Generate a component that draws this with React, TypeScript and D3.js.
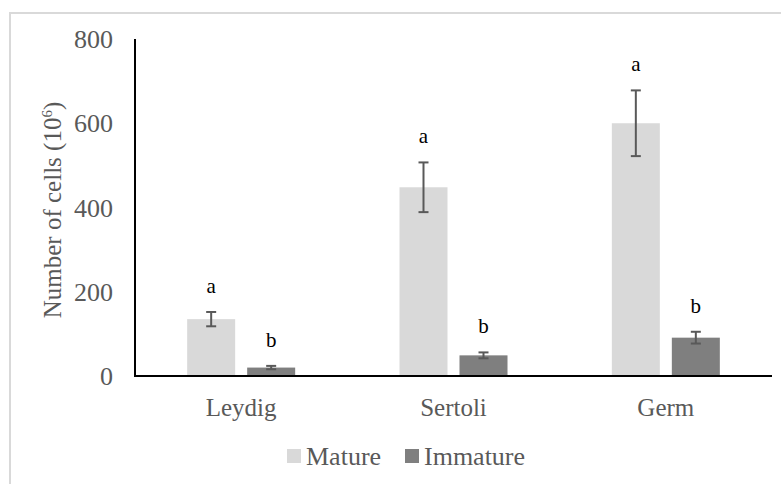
import React, { useEffect, useRef } from 'react';
import * as d3 from 'd3';

// chart data
const categories = ['Leydig', 'Sertoli', 'Germ'];
const seriesNames = ['Mature', 'Immature'];
const matureValues = [135, 448, 600];
const immatureValues = [20, 49, 91];
const matureErrors = [17, 59, 78];
const immatureErrors = [4, 7, 14];
const matureLetters = ['a', 'a', 'a'];
const immatureLetters = ['b', 'b', 'b'];
const yTicks = [0, 200, 400, 600, 800];

const colors = ['#d9d9d9', '#7f7f7f'];
const textGray = '#595959';
const font = '"Liberation Serif", "Times New Roman", serif';

const App = () => {
  const chartRef = useRef<SVGSVGElement>(null);

  useEffect(() => {
    const svg = d3.select(chartRef.current);
    svg.selectAll('*').remove();

    // light frame around the chart area
    svg.append('rect')
      .attr('x', 10)
      .attr('y', 13)
      .attr('width', 800)
      .attr('height', 500)
      .style('fill', 'none')
      .style('stroke', '#d9d9d9')
      .style('stroke-width', 2);

    const left = 135;
    const right = 772;
    const top = 39;
    const bottom = 376;

    const x0 = d3.scaleBand().domain(categories).range([left, right]).padding(0);
    const groupWidth = 108;
    const x1 = d3.scaleBand().domain(seriesNames).range([0, groupWidth]).paddingInner(0.2).paddingOuter(0);
    const y = d3.scaleLinear().domain([0, 800]).range([bottom, top]);

    const rows = categories.flatMap((c, i) => [
      { cat: c, series: 'Mature', value: matureValues[i], err: matureErrors[i], letter: matureLetters[i], color: colors[0] },
      { cat: c, series: 'Immature', value: immatureValues[i], err: immatureErrors[i], letter: immatureLetters[i], color: colors[1] },
    ]);

    const barX = (d) => x0(d.cat) + x0.bandwidth() / 2 - groupWidth / 2 + x1(d.series);

    // bars
    svg.selectAll('.bar')
      .data(rows)
      .enter()
      .append('rect')
      .attr('class', 'bar')
      .attr('x', barX)
      .attr('y', d => y(d.value))
      .attr('width', x1.bandwidth())
      .attr('height', d => y(0) - y(d.value))
      .style('fill', d => d.color);

    // error bars
    const err = svg.selectAll('.err')
      .data(rows)
      .enter()
      .append('g')
      .attr('class', 'err')
      .style('stroke', textGray)
      .style('stroke-width', 2);
    const cx = (d) => barX(d) + x1.bandwidth() / 2;
    err.append('line')
      .attr('x1', cx).attr('x2', cx)
      .attr('y1', d => y(d.value + d.err))
      .attr('y2', d => y(d.value - d.err));
    err.append('line')
      .attr('x1', d => cx(d) - 5).attr('x2', d => cx(d) + 5)
      .attr('y1', d => y(d.value + d.err))
      .attr('y2', d => y(d.value + d.err));
    err.append('line')
      .attr('x1', d => cx(d) - 5).attr('x2', d => cx(d) + 5)
      .attr('y1', d => y(d.value - d.err))
      .attr('y2', d => y(d.value - d.err));

    // significance letters
    svg.selectAll('.letter')
      .data(rows)
      .enter()
      .append('text')
      .attr('class', 'letter')
      .attr('x', cx)
      .attr('y', d => y(d.value + d.err) - 19)
      .attr('text-anchor', 'middle')
      .style('font-family', font)
      .style('font-size', '21px')
      .style('fill', '#000')
      .text(d => d.letter);

    // axes lines
    svg.append('line')
      .attr('x1', left).attr('x2', left)
      .attr('y1', top).attr('y2', bottom)
      .style('stroke', '#000').style('stroke-width', 2);
    svg.append('line')
      .attr('x1', left - 1).attr('x2', right)
      .attr('y1', bottom).attr('y2', bottom)
      .style('stroke', '#000').style('stroke-width', 2);

    // y tick labels
    svg.selectAll('.ytick')
      .data(yTicks)
      .enter()
      .append('text')
      .attr('class', 'ytick')
      .attr('x', 113)
      .attr('y', d => y(d) + 9)
      .attr('text-anchor', 'end')
      .style('font-family', font)
      .style('font-size', '26px')
      .style('fill', textGray)
      .text(d => d);

    // category labels
    svg.selectAll('.xlab')
      .data(categories)
      .enter()
      .append('text')
      .attr('class', 'xlab')
      .attr('x', d => x0(d) + x0.bandwidth() / 2)
      .attr('y', 416)
      .attr('text-anchor', 'middle')
      .style('font-family', font)
      .style('font-size', '25px')
      .style('fill', textGray)
      .text(d => d);

    // y axis title
    const title = svg.append('text')
      .attr('transform', 'translate(61,210) rotate(-90)')
      .attr('text-anchor', 'middle')
      .style('font-family', font)
      .style('font-size', '25px')
      .style('fill', textGray);
    title.append('tspan').text('Number of cells (10');
    title.append('tspan').attr('dy', -9).style('font-size', '15px').text('6');
    title.append('tspan').attr('dy', 9).text(')');

    // legend
    const legendX = [287, 405];
    const legend = svg.selectAll('.legend')
      .data(seriesNames)
      .enter()
      .append('g')
      .attr('class', 'legend')
      .attr('transform', (d, i) => `translate(${legendX[i]}, 449)`);
    legend.append('rect')
      .attr('width', 14)
      .attr('height', 14)
      .style('fill', (d, i) => colors[i]);
    legend.append('text')
      .attr('x', 19)
      .attr('y', 16)
      .style('font-family', font)
      .style('font-size', '26px')
      .style('fill', textGray)
      .text(d => d);
  }, []);

  return (
    <svg
      ref={chartRef}
      width={781}
      height={484}
      style={{ position: 'absolute', left: 0, top: 0, background: '#fff' }}
    />
  );
};

export default App;
